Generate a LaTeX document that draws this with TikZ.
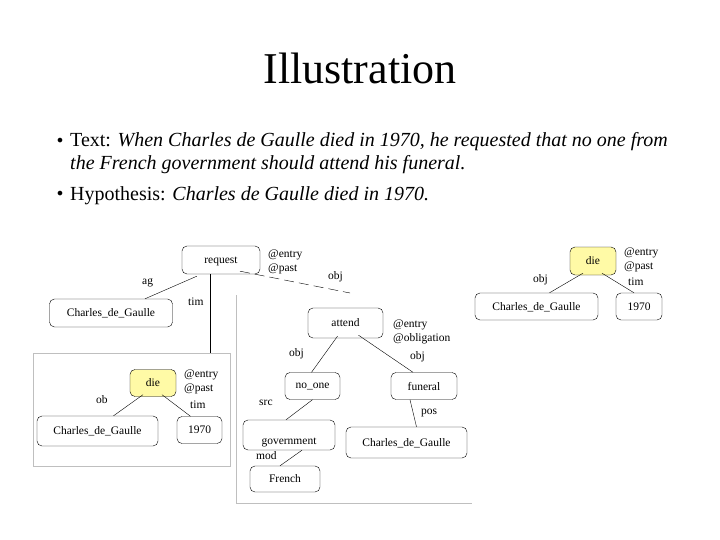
\documentclass[tikz,border=0pt]{standalone}
\usepackage{fontspec}
\setmainfont{Liberation Serif}
\newfontfamily\bulfont{DejaVu Sans}
\begin{document}
\begin{tikzpicture}[x=1pt,y=-1pt,
 bx/.style={draw,rounded corners=5pt,minimum height=28pt,font=\fontsize{11.5}{12}\selectfont,inner sep=2pt,text depth=0pt},
 lb/.style={font=\fontsize{11.5}{12}\selectfont,inner sep=0pt,anchor=west},
 ed/.style={thin},
 panel/.style={draw=gray!50}]
\useasboundingbox (0,0) rectangle (720,540);
\node[font=\fontsize{44}{48}\selectfont] (title) at (360,68) {Illustration};
\node[font=\fontsize{16}{16}\selectfont] (b1) at (60,142) {\bulfont •};
\node[anchor=north west,font=\fontsize{20}{23}\selectfont,align=left,inner sep=0pt] (t1) at (70,132) {Text: \textit{When Charles de Gaulle died in 1970, he requested that no one from}\\\textit{the French government should attend his funeral.}};
\node[font=\fontsize{16}{16}\selectfont] (b2) at (60,195) {\bulfont •};
\node[anchor=west,font=\fontsize{20}{22}\selectfont,inner sep=0pt] (t2) at (70,196) {Hypothesis: \textit{Charles de Gaulle died in 1970.}};
% panels
\draw[panel] (33,353) rectangle (230,466);
\draw[panel] (236,295) -- (236,503) -- (472,503);
% nodes
\node[bx,minimum width=78pt] (req) at (221,260) {request};
\node[lb] (rq1) at (268,255) {@entry};
\node[lb] (rq2) at (268,269) {@past};
\node[bx,minimum width=123pt] (cdg1) at (111,313) {Charles\_de\_Gaulle};
\node[lb] (ag) at (142,283) {ag};
\node[lb] (tim1) at (188,302) {tim};
\node[lb] (obj1) at (328,277) {obj};
\node[bx,fill=yellow!35,minimum width=46pt,minimum height=27pt] (die1) at (153,383) {die};
\node[lb] (d1a) at (184,375) {@entry};
\node[lb] (d1b) at (184,389) {@past};
\node[lb] (tim2) at (190,405) {tim};
\node[lb] (ob2) at (96,400) {ob};
\node[bx,minimum width=121pt,minimum height=30pt] (cdg2) at (97.5,431) {Charles\_de\_Gaulle};
\node[bx,minimum width=45pt,minimum height=27pt] (y1) at (199.5,430) {1970};
\node[bx,minimum width=75pt,minimum height=30pt] (att) at (345.5,323) {attend};
\node[lb] (at1) at (393,325) {@entry};
\node[lb] (at2) at (393,339) {@obligation};
\node[bx,minimum width=55pt,minimum height=27pt] (no) at (312.5,386) {no\_one};
\node[lb] (obj2) at (289,354) {obj};
\node[bx,minimum width=66pt,minimum height=27pt] (fun) at (424,386) {funeral};
\node[lb] (obj3) at (410,357) {obj};
\node[lb] (src) at (259,403) {src};
\node[bx,minimum width=92pt,minimum height=30pt,text height=18pt] (gov) at (289,435) {government};
\node[lb] (mod) at (256,456) {mod};
\node[bx,minimum width=70pt,minimum height=26pt] (fr) at (285,479) {French};
\node[bx,minimum width=121pt,minimum height=31pt] (cdg3) at (406.5,442.5) {Charles\_de\_Gaulle};
\node[lb] (pos) at (421,413) {pos};
\node[bx,fill=yellow!35,minimum width=46pt,minimum height=28pt] (die2) at (593,261) {die};
\node[lb] (d2a) at (624,253) {@entry};
\node[lb] (d2b) at (624,267) {@past};
\node[lb] (tim3) at (628,282) {tim};
\node[lb] (obj4) at (533,280) {obj};
\node[bx,minimum width=123pt,minimum height=27pt] (cdg4) at (536.5,306.5) {Charles\_de\_Gaulle};
\node[bx,minimum width=46pt,minimum height=27pt] (y2) at (639,306.5) {1970};
% edges
\draw[ed] (req.south west) ++(15,2) coordinate (e1) (e1) -- ([xshift=34pt]cdg1.north);
\draw[ed] ([xshift=-11pt]req.south) -- (210,353) coordinate (e2);
\draw[ed,dash pattern=on 10pt off 5pt] ([xshift=19pt,yshift=3pt]req.south) -- (350,293) coordinate (e3);
\draw[ed] ([xshift=-10pt,yshift=2pt]die1.south) -- ([xshift=16pt]cdg2.north);
\draw[ed] ([xshift=9pt,yshift=2pt]die1.south) -- ([xshift=-9pt]y1.north);
\draw[ed] ([xshift=-8pt,yshift=2pt]att.south) -- ([xshift=-1pt]no.north);
\draw[ed] ([xshift=13pt,yshift=3pt]att.south) -- ([xshift=-11pt]fun.north);
\draw[ed] ([xshift=-14pt]fun.south) -- ([xshift=10pt]cdg3.north);
\draw[ed] (no.south) -- ([xshift=-3pt]gov.north);
\draw[ed] ([xshift=13pt]gov.south) -- ([xshift=-5pt]fr.north);
\draw[ed] ([xshift=-10pt,yshift=2pt]die2.south) -- ([xshift=13pt]cdg4.north);
\draw[ed] ([xshift=9pt,yshift=2pt]die2.south) -- ([xshift=-5pt]y2.north);
\end{tikzpicture}
\end{document}
